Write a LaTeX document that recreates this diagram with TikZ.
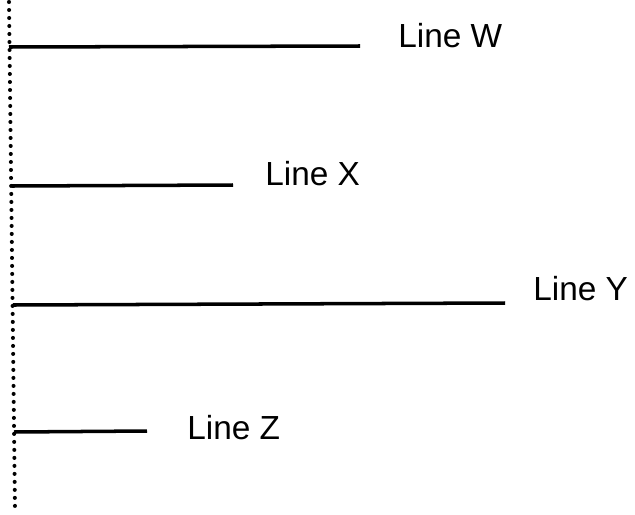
\documentclass[tikz,border=0pt]{standalone}
\usepackage{fontspec}
\setmainfont{Liberation Sans}
\begin{document}
\begin{tikzpicture}[x=0.02cm,y=-0.02cm]
\tikzset{bar/.style={line width=2pt},
 lbl/.style={anchor=base west,inner sep=0pt,font=\fontsize{19}{22}\selectfont}}
\useasboundingbox (0,0) rectangle (635,514);
\coordinate (Top) at (9,2);
\coordinate (Bot) at (15,510);
\draw [line width=2.3pt,line cap=round,dash pattern=on 0pt off 0.16cm](Top) -- (Bot);
\coordinate (W0) at (9,47);
\coordinate (W1) at (360,46);
\draw [bar](W0) -- (W1);
\node [lbl](LineW) at (398,47){Line W};
\coordinate (X0) at (12,186);
\coordinate (X1) at (233,185);
\draw [bar](X0) -- (X1);
\node [lbl](LineX) at (265,185){Line X};
\coordinate (Y0) at (13,305);
\coordinate (Y1) at (505,303);
\draw [bar](Y0) -- (Y1);
\node [lbl](LineY) at (533,300){Line Y};
\coordinate (Z0) at (14,432);
\coordinate (Z1) at (147,431);
\draw [bar](Z0) -- (Z1);
\node [lbl](LineZ) at (187,439){Line Z};
\end{tikzpicture}
\end{document}
